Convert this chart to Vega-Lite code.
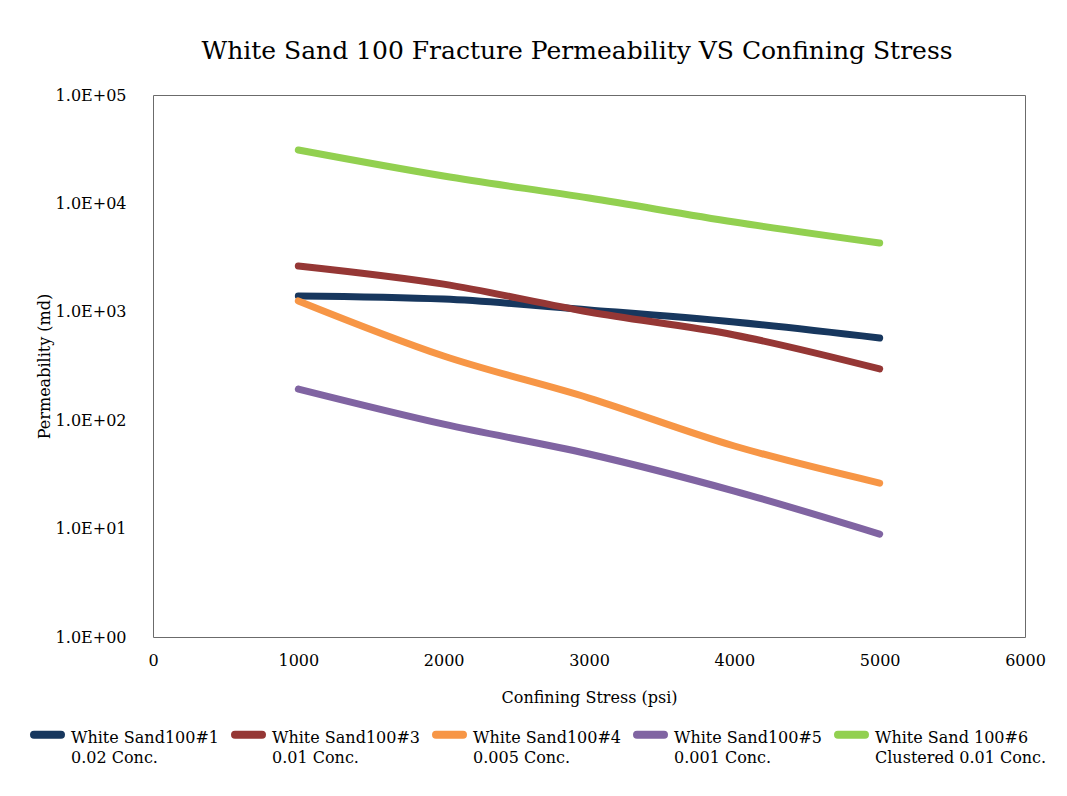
{
  "$schema": "https://vega.github.io/schema/vega-lite/v6.json",
  "width": 872,
  "height": 542,
  "autosize": {"type": "none"},
  "padding": {"left": 153, "top": 95, "right": 42, "bottom": 159},
  "background": "white",
  "title": {
    "text": "White Sand 100 Fracture Permeability VS Confining Stress",
    "font": "DejaVu Serif",
    "fontSize": 25,
    "fontWeight": "normal",
    "color": "black",
    "anchor": "middle",
    "offset": 23,
    "dx": -12
  },
  "data": {
    "values": [
      {"stress": 1000, "perm": 1400, "series": "White Sand100#1|0.02 Conc."},
      {"stress": 2000, "perm": 1310, "series": "White Sand100#1|0.02 Conc."},
      {"stress": 3000, "perm": 1040, "series": "White Sand100#1|0.02 Conc."},
      {"stress": 4000, "perm": 805, "series": "White Sand100#1|0.02 Conc."},
      {"stress": 5000, "perm": 573, "series": "White Sand100#1|0.02 Conc."},
      {"stress": 1000, "perm": 2650, "series": "White Sand100#3|0.01 Conc."},
      {"stress": 2000, "perm": 1800, "series": "White Sand100#3|0.01 Conc."},
      {"stress": 3000, "perm": 995, "series": "White Sand100#3|0.01 Conc."},
      {"stress": 4000, "perm": 611, "series": "White Sand100#3|0.01 Conc."},
      {"stress": 5000, "perm": 297, "series": "White Sand100#3|0.01 Conc."},
      {"stress": 1000, "perm": 1260, "series": "White Sand100#4|0.005 Conc."},
      {"stress": 2000, "perm": 391, "series": "White Sand100#4|0.005 Conc."},
      {"stress": 3000, "perm": 160, "series": "White Sand100#4|0.005 Conc."},
      {"stress": 4000, "perm": 57.8, "series": "White Sand100#4|0.005 Conc."},
      {"stress": 5000, "perm": 26.3, "series": "White Sand100#4|0.005 Conc."},
      {"stress": 1000, "perm": 194, "series": "White Sand100#5|0.001 Conc."},
      {"stress": 2000, "perm": 92, "series": "White Sand100#5|0.001 Conc."},
      {"stress": 3000, "perm": 48.8, "series": "White Sand100#5|0.001 Conc."},
      {"stress": 4000, "perm": 22.2, "series": "White Sand100#5|0.001 Conc."},
      {"stress": 5000, "perm": 8.9, "series": "White Sand100#5|0.001 Conc."},
      {"stress": 1000, "perm": 31100, "series": "White Sand 100#6|Clustered 0.01 Conc."},
      {"stress": 2000, "perm": 17900, "series": "White Sand 100#6|Clustered 0.01 Conc."},
      {"stress": 3000, "perm": 11200, "series": "White Sand 100#6|Clustered 0.01 Conc."},
      {"stress": 4000, "perm": 6730, "series": "White Sand 100#6|Clustered 0.01 Conc."},
      {"stress": 5000, "perm": 4310, "series": "White Sand 100#6|Clustered 0.01 Conc."}
    ]
  },
  "mark": {"type": "line", "strokeWidth": 7, "strokeCap": "round", "strokeJoin": "round", "interpolate": "monotone"},
  "encoding": {
    "x": {
      "field": "stress",
      "type": "quantitative",
      "scale": {"domain": [0, 6000], "nice": false},
      "axis": {
        "title": "Confining Stress (psi)",
        "values": [0, 1000, 2000, 3000, 4000, 5000, 6000],
        "format": "d",
        "grid": false,
        "ticks": false,
        "tickSize": 0,
        "domain": false,
        "labelPadding": 15,
        "titlePadding": 21,
        "labelFlush": false
      }
    },
    "y": {
      "field": "perm",
      "type": "quantitative",
      "scale": {"type": "log", "domain": [1, 100000], "nice": false},
      "axis": {
        "title": "Permeability (md)",
        "values": [1, 10, 100, 1000, 10000, 100000],
        "labelExpr": "'1.0E+0' + round(log(datum.value) / LN10)",
        "grid": false,
        "ticks": false,
        "tickSize": 0,
        "domain": false,
        "labelPadding": 27,
        "titlePadding": 3
      }
    },
    "color": {
      "field": "series",
      "type": "nominal",
      "sort": null,
      "scale": {
        "domain": [
          "White Sand100#1|0.02 Conc.",
          "White Sand100#3|0.01 Conc.",
          "White Sand100#4|0.005 Conc.",
          "White Sand100#5|0.001 Conc.",
          "White Sand 100#6|Clustered 0.01 Conc."
        ],
        "range": ["#17375E", "#953735", "#F79646", "#8064A2", "#92D050"]
      },
      "legend": {
        "title": null,
        "orient": "none",
        "legendX": -123,
        "legendY": 622,
        "direction": "horizontal",
        "columns": 5,
        "columnPadding": -1,
        "symbolType": "stroke",
        "symbolSize": 729,
        "symbolStrokeWidth": 8,
        "labelOffset": 6,
        "labelLimit": 400,
        "labelBaseline": "alphabetic",
        "labelExpr": "split(datum.label, '|')",
        "encode": {
          "labels": {"update": {"dy": {"value": 8}, "lineHeight": {"value": 20}}},
          "symbols": {"update": {"strokeCap": {"value": "round"}}}
        }
      }
    }
  },
  "config": {
    "font": "DejaVu Serif",
    "view": {"stroke": "#6b6b6b", "strokeWidth": 1},
    "axis": {
      "labelFont": "DejaVu Serif",
      "labelFontSize": 16,
      "labelColor": "black",
      "titleFont": "DejaVu Serif",
      "titleFontSize": 16,
      "titleFontWeight": "normal",
      "titleColor": "black"
    },
    "legend": {
      "labelFont": "DejaVu Serif",
      "labelFontSize": 16,
      "labelColor": "black"
    }
  }
}
